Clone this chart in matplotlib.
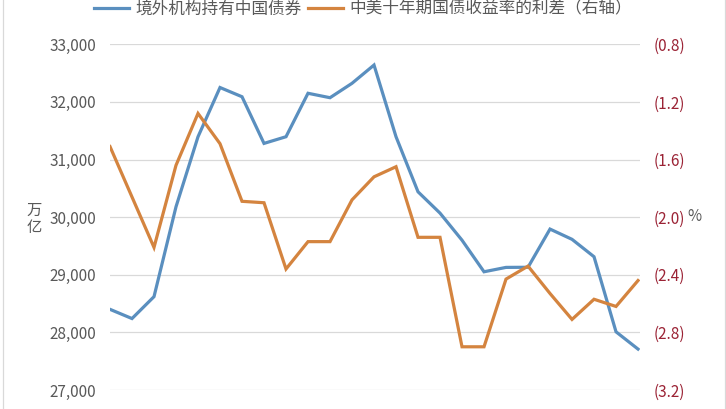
import matplotlib
matplotlib.use("Agg")
import matplotlib.pyplot as plt
from matplotlib.ticker import FuncFormatter, FixedLocator
from matplotlib.patches import Rectangle

plt.rcParams['font.family'] = ['Noto Sans CJK SC', 'DejaVu Sans']

# 境外机构持有中国债券 (亿元, left axis)
holdings = [28400, 28240, 28620, 30180, 31395, 32250, 32090, 31280, 31396, 32150,
            32073, 32323, 32640, 31396, 30440, 30070, 29600, 29052, 29128, 29130,
            29793, 29615, 29313, 28010, 27710]
# 中美十年期国债收益率的利差 (%, right axis)
spread = [-1.51, -1.86, -2.21, -1.64, -1.28, -1.49, -1.89, -1.90, -2.36, -2.17,
          -2.17, -1.88, -1.72, -1.65, -2.14, -2.14, -2.90, -2.90, -2.43, -2.34,
          -2.53, -2.71, -2.57, -2.62, -2.44]
left_ticks = [27000, 28000, 29000, 30000, 31000, 32000, 33000]
right_ticks = [-3.2, -2.8, -2.4, -2.0, -1.6, -1.2, -0.8]

blue = '#5A8FBF'
orange = '#D4843F'
grey = '#595959'
red = '#9B2335'

fig = plt.figure(figsize=(7.26, 4.09), dpi=100)
ax1 = fig.add_axes([110 / 726, 1 - 390 / 409, 530 / 726, (390 - 44.3) / 409])
ax2 = ax1.twinx()

x = list(range(len(holdings)))
ln1, = ax1.plot(x, holdings, color=blue, lw=2.3, solid_joinstyle='miter', zorder=3)
ln2, = ax2.plot(x, spread, color=orange, lw=2.3, solid_joinstyle='miter', zorder=3)

ax1.set_xlim(0, 24.09)
ax1.set_ylim(27000, 33000)
ax2.set_ylim(-3.2, -0.8)
ax1.yaxis.set_major_locator(FixedLocator(left_ticks))
ax2.yaxis.set_major_locator(FixedLocator(right_ticks))
ax1.yaxis.set_major_formatter(FuncFormatter(lambda v, p: f'{v:,.0f}'))
ax2.yaxis.set_major_formatter(FuncFormatter(lambda v, p: f'({abs(v):.1f})'))

ax1.grid(axis='y', color='#D9D9D9', lw=0.9)
ax1.set_axisbelow(True)
ax1.set_xticks([])
for ax in (ax1, ax2):
    for s in ax.spines.values():
        s.set_visible(False)
ax1.tick_params(axis='y', length=0, pad=10, labelsize=11, labelcolor=grey)
ax2.tick_params(axis='y', length=0, pad=10, labelsize=11, labelcolor=red)

fig.text(34 / 726, 1 - 219 / 409, '万\n亿', ha='center', va='center',
         fontsize=11, color=grey, linespacing=1.0)
fig.text(694 / 726, 1 - 217 / 409, '%', ha='center', va='center',
         fontsize=11, color=grey)

fig.legend([ln1, ln2], ['境外机构持有中国债券', '中美十年期国债收益率的利差（右轴）'],
           loc='center', bbox_to_anchor=(0.5, 1 - 9 / 409), ncol=2, frameon=False,
           fontsize=12, handlelength=2.1, handletextpad=0.35, columnspacing=0.4,
           labelcolor=grey)

fig.patches.append(Rectangle((3 / 726, -0.1), 722 / 726, 1.2, transform=fig.transFigure,
                             fill=False, edgecolor='#D9D9D9', lw=0.9))

fig.savefig('out.png', dpi=100)
